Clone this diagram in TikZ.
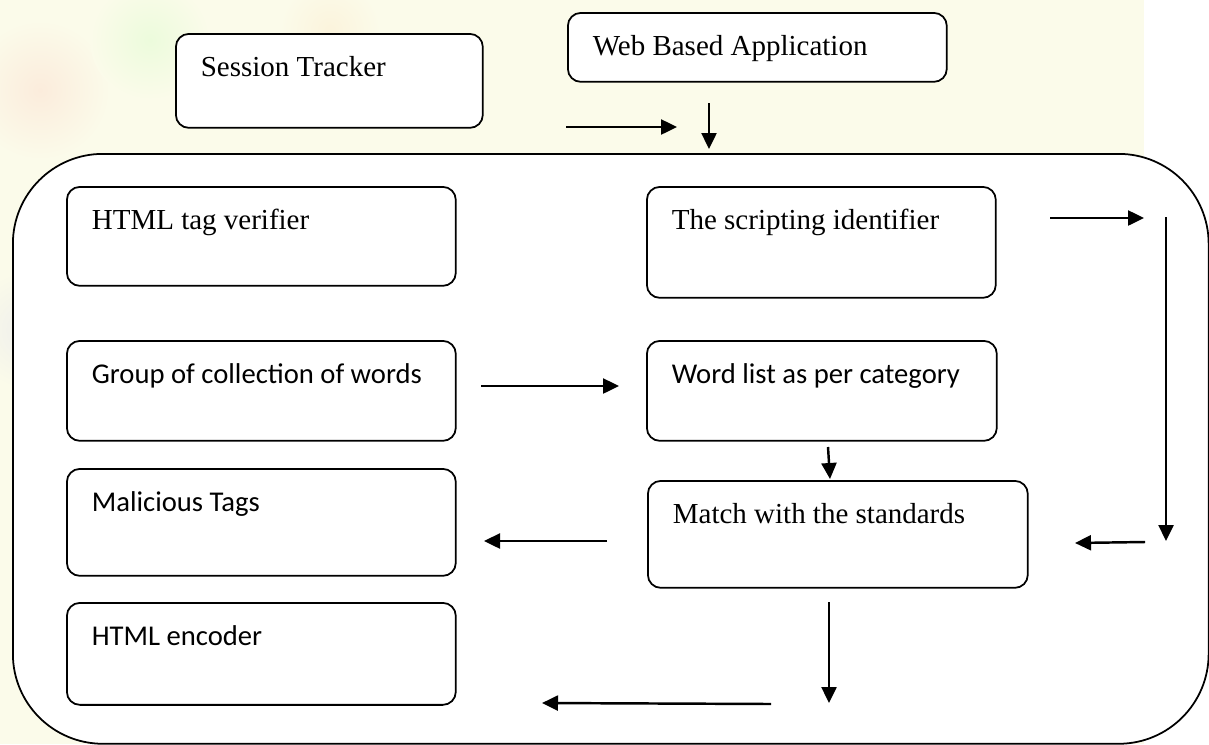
\documentclass[tikz,border=0pt]{standalone}
\usepackage{fontspec}
\setmainfont{Liberation Serif}
\newfontfamily\calibri{Carlito}
\usetikzlibrary{arrows.meta}

\definecolor{paper}{RGB}{251,251,234}
% fixed-width line, set flush left
\newcommand{\boxline}[2]{\makebox[#1][l]{#2}}

\begin{document}
\begin{tikzpicture}[x=0.02cm, y=-0.02cm,
    panel/.style={rectangle, rounded corners=0.26cm, draw, line width=1pt,
                  fill=white, anchor=north west, inner xsep=0.5cm, inner ysep=0pt,
                  text height=0.86cm},
    serifbox/.style={panel, font=\fontsize{16.5}{19}\selectfont},
    sansbox/.style={panel, font=\calibri\fontsize{16.3}{19}\selectfont},
    frame/.style={rectangle, rounded corners=1.8cm, draw, line width=1pt,
                  fill=white, anchor=north west, inner sep=0pt,
                  minimum width=23.92cm, minimum height=11.8cm},
    arrow/.style={-{Triangle[length=0.32cm, width=0.3cm]}, line width=1.4pt}
]
    \useasboundingbox (0,0) rectangle (1209,744);
    \fill[white] (0,0) rectangle (1209,744);
    \fill[paper] (0,0) rectangle (1144,744);

    % faint page tint behind the chart
    \shade[inner color=red!6!paper, outer color=paper] (40,90) circle (70);
    \shade[inner color=green!6!paper, outer color=paper] (150,40) circle (60);
    \shade[inner color=blue!5!paper, outer color=paper] (30,330) circle (60);
    \shade[inner color=orange!6!paper, outer color=paper] (330,30) circle (50);

    % outer system boundary
    \node[frame] (sys) at (12,153) {};

    % inputs
    \node[serifbox, text depth=1.02cm] (sess) at (175,33) {\boxline{5.14cm}{Session Tracker}};
    \node[serifbox, text depth=0.52cm] (web)  at (567,12) {\boxline{6.58cm}{Web Based Application}};

    % left column
    \node[serifbox, text depth=1.12cm] (tagv) at (66,186) {\boxline{6.78cm}{HTML tag verifier}};
    \node[sansbox,  text depth=1.14cm] (grp)  at (66,340) {\boxline{6.78cm}{Group of collection of words}};
    \node[sansbox,  text depth=1.28cm] (mal)  at (66,468) {\boxline{6.78cm}{Malicious Tags}};
    \node[sansbox,  text depth=1.18cm] (enc)  at (66,602) {\boxline{6.78cm}{HTML encoder}};

    % right column
    \node[serifbox, text depth=1.36cm] (scrid) at (646,186) {\boxline{5.98cm}{The scripting identifier}};
    \node[sansbox,  text depth=1.14cm] (wlist) at (646,340) {\boxline{6.00cm}{Word list as per category}};
    \node[serifbox, text depth=1.28cm] (match) at (647,480) {\boxline{6.60cm}{Match with the standards}};

    % arrow end points
    \coordinate (in1) at (566,127);  \coordinate (in2) at (677,127);
    \coordinate (in3) at (709,103);  \coordinate (in4) at (709,149);
    \coordinate (sc1) at (1050,218); \coordinate (sc2) at (1144,218);
    \coordinate (dn1) at (1166,217); \coordinate (dn2) at (1166,541);
    \coordinate (bk1) at (1145,542); \coordinate (bk2) at (1075,543);
    \coordinate (gw1) at (481,386);  \coordinate (gw2) at (619,386);
    \coordinate (wm1) at (828,447);  \coordinate (wm2) at (830,479);
    \coordinate (mt1) at (607,541);  \coordinate (mt2) at (484,541);
    \coordinate (md1) at (829,602);  \coordinate (md2) at (829,703);
    \coordinate (en1) at (771,704);  \coordinate (en2) at (542,703);

    \draw[arrow] (in1) -- (in2);
    \draw[arrow] (in3) -- (in4);
    \draw[arrow] (sc1) -- (sc2);
    \draw[arrow] (dn1) -- (dn2);
    \draw[arrow] (bk1) -- (bk2);
    \draw[arrow] (gw1) -- (gw2);
    \draw[arrow] (wm1) -- (wm2);
    \draw[arrow] (mt1) -- (mt2);
    \draw[arrow] (md1) -- (md2);
    \draw[arrow] (en1) -- (en2);
\end{tikzpicture}
\end{document}
